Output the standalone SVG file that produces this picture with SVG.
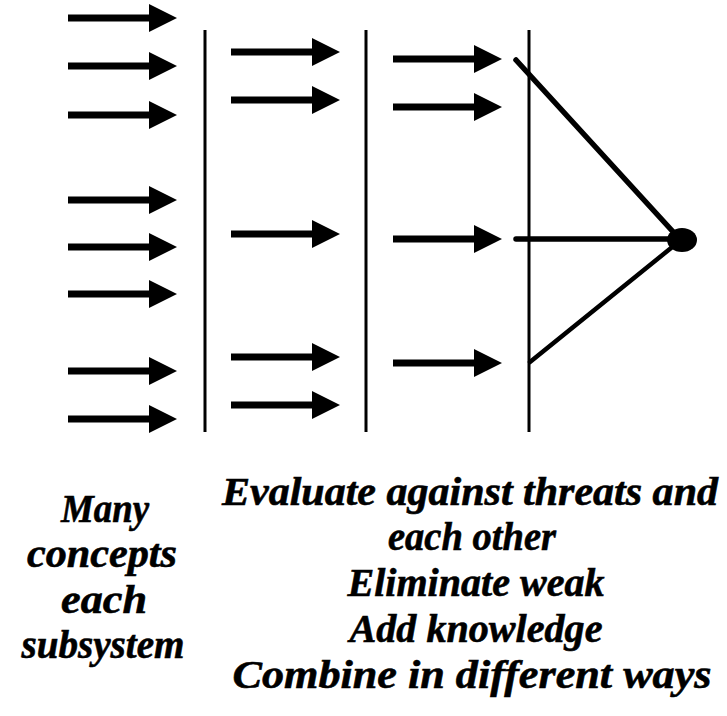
<svg xmlns="http://www.w3.org/2000/svg" xmlns:xlink="http://www.w3.org/1999/xlink" width="727" height="716" viewBox="0 0 727 716">
<style>
.bar{stroke:#000;stroke-width:3;fill:none}
.conv{stroke:#000;stroke-width:5.5;fill:none;stroke-linecap:round}
.lbl{font-family:"Liberation Serif","Times New Roman",serif;font-weight:bold;font-style:italic;font-size:40px;fill:#000;stroke:#000;stroke-width:0.6;text-anchor:middle}
</style>
<defs>
<path id="arr" d="M0,-3.5 L81,-3.5 L81,-14 L109,0 L81,14 L81,3.5 L0,3.5 Z" fill="#000"/>
</defs>
<rect width="727" height="716" fill="#fff"/>
<g id="bar1"><line class="bar" x1="205" y1="30" x2="205" y2="432"/></g>
<g id="bar2"><line class="bar" x1="366" y1="30" x2="366" y2="432"/></g>
<g id="bar3"><line class="bar" x1="529" y1="30" x2="529" y2="432"/></g>
<g id="dot"><ellipse cx="682" cy="240" rx="15" ry="12" fill="#000"/></g>
<g id="connectors">
<use xlink:href="#arr" x="68" y="18"/>
<use xlink:href="#arr" x="68" y="66"/>
<use xlink:href="#arr" x="68" y="115"/>
<use xlink:href="#arr" x="68" y="200"/>
<use xlink:href="#arr" x="68" y="247"/>
<use xlink:href="#arr" x="68" y="294"/>
<use xlink:href="#arr" x="68" y="371"/>
<use xlink:href="#arr" x="68" y="419"/>
<use xlink:href="#arr" x="231" y="52"/>
<use xlink:href="#arr" x="231" y="100"/>
<use xlink:href="#arr" x="231" y="234"/>
<use xlink:href="#arr" x="231" y="357"/>
<use xlink:href="#arr" x="231" y="405"/>
<use xlink:href="#arr" x="393" y="59"/>
<use xlink:href="#arr" x="393" y="107"/>
<use xlink:href="#arr" x="393" y="239"/>
<use xlink:href="#arr" x="393" y="363"/>
<line class="conv" x1="516" y1="60" x2="676" y2="235"/>
<line class="conv" x1="516" y1="239" x2="672" y2="239"/>
<line class="conv" x1="530" y1="362" x2="676" y2="244" style="stroke-width:4.5"/>
</g>
<g id="label-left">
<text class="lbl" x="105" y="522" textLength="88" lengthAdjust="spacingAndGlyphs">Many</text>
<text class="lbl" x="102" y="567" textLength="150" lengthAdjust="spacingAndGlyphs">concepts</text>
<text class="lbl" x="104" y="613" textLength="86" lengthAdjust="spacingAndGlyphs">each</text>
<text class="lbl" x="103" y="658" textLength="163" lengthAdjust="spacingAndGlyphs">subsystem</text>
</g>
<g id="label-right">
<text class="lbl" x="470" y="505" textLength="496" lengthAdjust="spacingAndGlyphs">Evaluate against threats and</text>
<text class="lbl" x="472" y="550" textLength="168" lengthAdjust="spacingAndGlyphs">each other</text>
<text class="lbl" x="476" y="596" textLength="257" lengthAdjust="spacingAndGlyphs">Eliminate weak</text>
<text class="lbl" x="476" y="642" textLength="253" lengthAdjust="spacingAndGlyphs">Add knowledge</text>
<text class="lbl" x="472" y="688" textLength="479" lengthAdjust="spacingAndGlyphs">Combine in different ways</text>
</g>
</svg>
